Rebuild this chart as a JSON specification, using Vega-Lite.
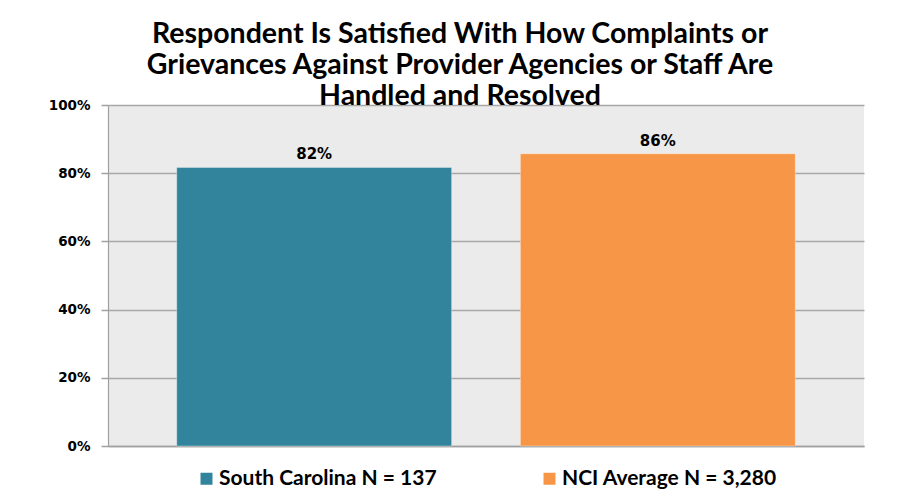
{
  "$schema": "https://vega.github.io/schema/vega-lite/v6.json",
  "autosize": {"type": "none"},
  "width": 756,
  "height": 341,
  "padding": {"left": 108, "top": 105, "right": 39, "bottom": 54},
  "background": "white",
  "title": {
    "text": ["Respondent Is Satisfied With How Complaints or", "Grievances Against Provider Agencies or Staff Are", "Handled and Resolved"],
    "font": "Lato",
    "fontSize": 28.5,
    "fontWeight": "bold",
    "color": "#000000",
    "anchor": "middle",
    "dx": -26,
    "offset": -12,
    "lineHeight": 31
  },
  "data": {
    "values": [
      {"group": "South Carolina N = 137", "value": 0.817},
      {"group": "NCI Average N = 3,280", "value": 0.857}
    ]
  },
  "encoding": {
    "x": {
      "field": "group",
      "type": "nominal",
      "sort": null,
      "scale": {"paddingInner": 0.2, "paddingOuter": 0.2},
      "axis": {"labels": false, "ticks": false, "title": null, "domain": true, "domainColor": "#a0a0a0", "domainWidth": 1.5}
    },
    "y": {
      "field": "value",
      "type": "quantitative",
      "scale": {"domain": [0, 1]},
      "axis": {
        "values": [0, 0.2, 0.4, 0.6, 0.8, 1],
        "format": ".0%",
        "title": null,
        "labelFont": "DejaVu Sans",
        "labelFontWeight": "bold",
        "labelFontSize": 13.5,
        "labelColor": "#000000",
        "labelPadding": 11,
        "tickSize": 7,
        "tickColor": "#a0a0a0",
        "domainColor": "#a0a0a0",
        "gridColor": "#a8a8a8",
        "gridWidth": 1.5,
        "tickWidth": 1.5,
        "domainWidth": 1.2
      }
    }
  },
  "layer": [
    {
      "mark": {"type": "bar", "stroke": "#ffffff", "strokeOpacity": 0.35, "strokeWidth": 1},
      "encoding": {
        "color": {
          "field": "group",
          "type": "nominal",
          "sort": null,
          "scale": {"range": ["#31849B", "#F79646"]},
          "legend": {
            "title": null,
            "orient": "bottom",
            "direction": "horizontal",
            "symbolType": "square",
            "symbolSize": 144,
            "symbolStrokeWidth": 0,
            "labelFont": "Lato",
            "labelFontWeight": "bold",
            "labelFontSize": 21,
            "labelColor": "#000000",
            "labelOffset": 2,
            "columnPadding": 102,
            "offset": 22,
            "labelLimit": 400
          }
        }
      }
    },
    {
      "mark": {"type": "text", "dy": -13, "font": "DejaVu Sans", "fontWeight": "bold", "fontSize": 15, "color": "#000000"},
      "encoding": {
        "text": {"field": "value", "type": "quantitative", "format": ".0%"}
      }
    }
  ],
  "config": {
    "view": {"fill": "#ebebeb", "stroke": null},
    "legend": {"layout": {"bottom": {"anchor": "middle"}}}
  }
}
